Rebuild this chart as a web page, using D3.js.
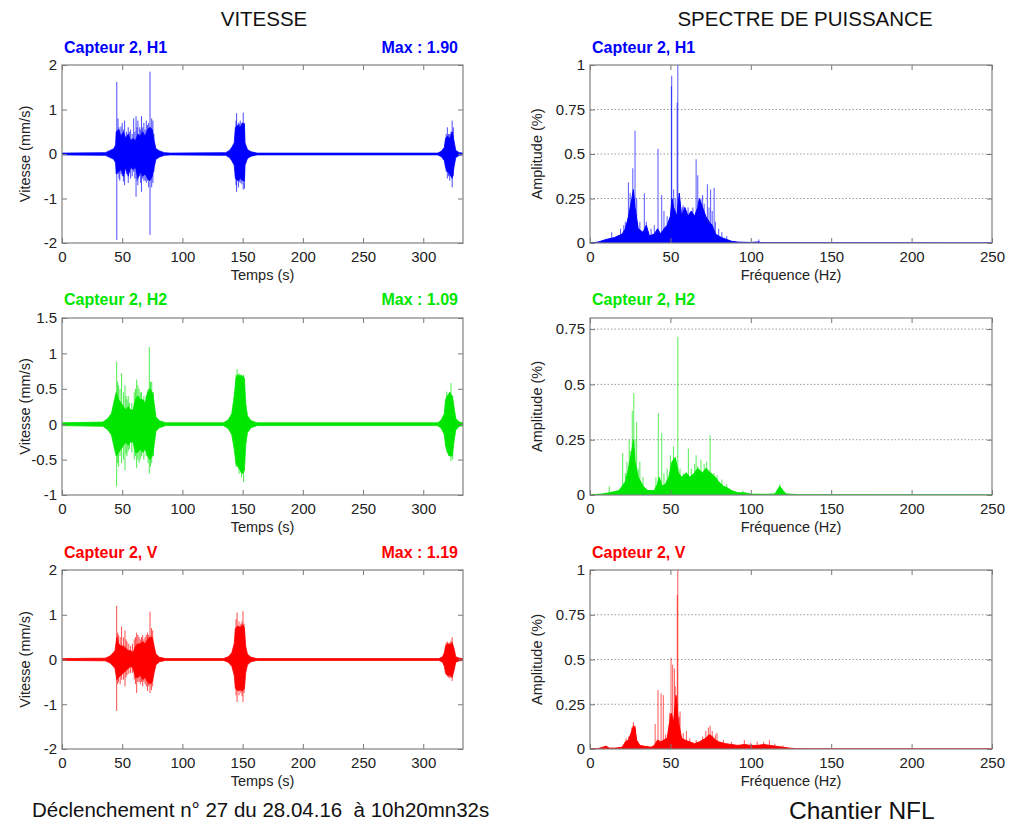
<!DOCTYPE html>
<html><head><meta charset="utf-8">
<script src="https://cdn.jsdelivr.net/npm/d3@7"></script>
<style>
body{margin:0;background:#fff}
svg{display:block}
text{font-family:"Liberation Sans",Arial,Helvetica,sans-serif}
</style>
</head><body>
<svg id="c" width="1011" height="825"></svg>
<script>
// ---------------- DATA ----------------
const timeTicks = [0, 50, 100, 150, 200, 250, 300];
const freqTicks = [0, 50, 100, 150, 200, 250];
const velTicksH1 = [-2, -1, 0, 1, 2];
const velTicksH2 = [-1, -0.5, 0, 0.5, 1, 1.5];
const velTicksV = [-2, -1, 0, 1, 2];
const ampTicks = [0, 0.25, 0.5, 0.75, 1];
const ampTicksH2 = [0, 0.25, 0.5, 0.75];

const channels = ["Capteur 2, H1", "Capteur 2, H2", "Capteur 2, V"];
const maxLabels = ["Max : 1.90", "Max : 1.09", "Max : 1.19"];

// velocity envelope [t, upper, lower] (mm/s)
const h1Env = [
[0,0.02,-0.02],[36,0.03,-0.03],[40,0.08,-0.08],[43,0.12,-0.12],[44.5,0.2,-0.2],[45,0.5,-0.45],[47,0.55,-0.4],[49,0.4,-0.35],[51,0.5,-0.5],[53,0.35,-0.3],[55,0.45,-0.5],[57,0.3,-0.3],[59,0.35,-0.35],[61,0.3,-0.3],[63,0.45,-0.55],[65,0.4,-0.4],[67,0.5,-0.5],[69,0.4,-0.45],[71,0.55,-0.55],[73,0.6,-0.6],[75,0.55,-0.5],[76.5,0.3,-0.3],[78,0.12,-0.12],[81,0.07,-0.07],[85,0.03,-0.03],[90,0.02,-0.02],
[136,0.03,-0.03],[139,0.08,-0.08],[141,0.15,-0.15],[143,0.25,-0.25],[144,0.6,-0.55],[146,0.65,-0.6],[148,0.6,-0.55],[150,0.7,-0.6],[151.5,0.65,-0.6],[152,0.25,-0.25],[154,0.1,-0.1],[157,0.05,-0.05],[162,0.02,-0.02],
[312,0.02,-0.02],[315,0.06,-0.06],[317.5,0.15,-0.15],[318.5,0.35,-0.3],[320,0.4,-0.4],[322,0.35,-0.45],[324,0.5,-0.55],[325.5,0.3,-0.3],[327,0.08,-0.08],[330,0.03,-0.03],[333,0.02,-0.02]
];
const h1Spikes = [
[45.5,1.62,-1.93],[73.1,1.85,-1.82],[46.5,0.8,-0.45],[47.3,0.6,-0.55],[48,0.55,-0.6],[49,0.62,-0.45],[50,0.7,-0.5],[51,0.55,-0.62],[52,0.75,-0.7],[53.5,0.5,-0.45],[55,0.6,-0.65],[56,0.5,-0.4],[57,0.55,-0.55],[58.3,0.45,-0.5],[59.5,0.8,-0.4],[60.5,0.5,-0.55],[61.5,0.85,-0.96],[62.3,0.6,-0.6],[63,0.75,-0.7],[64.5,0.6,-0.5],[65.3,0.55,-0.65],[66,0.85,-0.85],[67,0.6,-0.55],[68,0.7,-0.6],[69,0.55,-0.6],[70,0.75,-0.65],[71,0.65,-0.6],[72,0.7,-0.75],[74.5,0.8,-0.75],[75.5,0.75,-0.65],[76.3,0.45,-0.4],
[144.5,0.75,-0.7],[145,0.92,-0.85],[146.5,0.7,-0.75],[147.3,0.68,-0.62],[148,0.75,-0.65],[149.3,0.7,-0.68],[150.5,0.93,-0.8],[151.5,0.7,-0.78],
[319,0.45,-0.4],[320,0.6,-0.55],[321,0.45,-0.5],[322,0.45,-0.6],[323,0.5,-0.5],[324,0.75,-0.75],[325,0.6,-0.5]
];

const h2Env = [
[0,0.02,-0.02],[34,0.03,-0.03],[38,0.08,-0.08],[41,0.15,-0.15],[43,0.3,-0.3],[45,0.45,-0.45],[47,0.35,-0.4],[49,0.3,-0.35],[51,0.25,-0.3],[53,0.2,-0.25],[55,0.25,-0.3],[57,0.2,-0.25],[59,0.2,-0.25],[61,0.35,-0.4],[63,0.4,-0.4],[65,0.35,-0.35],[67,0.35,-0.4],[69,0.3,-0.35],[71,0.45,-0.45],[73,0.5,-0.5],[75,0.45,-0.45],[76.5,0.3,-0.3],[78,0.1,-0.1],[81,0.05,-0.05],[86,0.02,-0.02],
[134,0.02,-0.02],[138,0.06,-0.06],[141,0.15,-0.15],[143,0.4,-0.35],[144.5,0.65,-0.55],[146,0.7,-0.6],[148,0.68,-0.65],[150,0.68,-0.7],[151.5,0.65,-0.65],[152.5,0.3,-0.3],[154,0.12,-0.12],[157,0.05,-0.05],[162,0.02,-0.02],
[312,0.02,-0.02],[315,0.06,-0.06],[317.5,0.15,-0.15],[318.5,0.35,-0.3],[320,0.4,-0.4],[322,0.45,-0.45],[324,0.4,-0.45],[325.5,0.25,-0.25],[327,0.08,-0.08],[330,0.03,-0.03],[333,0.02,-0.02]
];
const h2Spikes = [
[45.4,0.88,-0.88],[46.2,0.6,-0.55],[47,0.55,-0.6],[48.2,0.5,-0.45],[49.5,0.72,-0.55],[51,0.45,-0.5],[52.3,0.55,-0.65],[53.2,0.4,-0.42],[54,0.35,-0.45],[55,0.4,-0.38],[56,0.3,-0.35],[58,0.3,-0.4],[60,0.45,-0.5],[61,0.5,-0.45],[62,0.63,-0.62],[63,0.55,-0.5],[64,0.5,-0.55],[65,0.45,-0.5],[66,0.45,-0.45],[68,0.4,-0.5],[70,0.4,-0.45],[71.5,0.5,-0.55],[72.5,1.09,-0.7],[73.5,0.6,-0.6],[74.5,0.6,-0.55],[76,0.45,-0.45],
[144.5,0.7,-0.6],[145.4,0.78,-0.6],[147,0.72,-0.7],[148.2,0.7,-0.68],[149,0.7,-0.75],[150.8,0.7,-0.82],
[319.5,0.46,-0.35],[321,0.4,-0.45],[322,0.45,-0.42],[323,0.58,-0.52],[324.5,0.4,-0.5]
];

const vEnv = [
[0,0.02,-0.02],[36,0.03,-0.03],[40,0.08,-0.08],[42.5,0.15,-0.15],[44,0.2,-0.2],[45.5,0.5,-0.45],[47,0.35,-0.4],[49,0.3,-0.35],[51,0.3,-0.3],[53,0.25,-0.25],[55,0.2,-0.2],[57,0.2,-0.15],[59,0.15,-0.2],[61,0.3,-0.4],[63,0.35,-0.4],[65,0.35,-0.35],[67,0.4,-0.45],[69,0.35,-0.4],[71,0.45,-0.5],[73,0.5,-0.55],[75,0.5,-0.5],[76.5,0.3,-0.3],[78,0.12,-0.12],[81,0.05,-0.05],[86,0.02,-0.02],
[134,0.02,-0.02],[138,0.06,-0.06],[141,0.15,-0.15],[143,0.35,-0.35],[144,0.7,-0.65],[146,0.75,-0.7],[148,0.72,-0.68],[150,0.78,-0.7],[151.5,0.7,-0.65],[152.5,0.3,-0.3],[154,0.12,-0.12],[157,0.05,-0.05],[162,0.02,-0.02],
[313,0.02,-0.02],[316,0.06,-0.06],[317.5,0.15,-0.15],[318.5,0.3,-0.3],[320,0.35,-0.35],[322,0.33,-0.35],[324,0.38,-0.4],[325.5,0.25,-0.25],[327,0.06,-0.06],[330,0.03,-0.03],[333,0.02,-0.02]
];
const vSpikes = [
[45.4,1.2,-1.15],[46.2,0.6,-0.55],[47,0.55,-0.5],[48.3,0.5,-0.55],[49.5,0.74,-0.45],[51,0.5,-0.45],[52.3,0.65,-0.6],[53.2,0.45,-0.4],[54,0.4,-0.35],[55.5,0.35,-0.32],[57,0.3,-0.3],[58.5,0.35,-0.3],[60,0.45,-0.45],[61,0.5,-0.55],[62,0.6,-0.75],[63,0.55,-0.5],[64,0.5,-0.5],[65,0.45,-0.55],[66,0.5,-0.5],[67,0.55,-0.6],[68,0.45,-0.5],[69,0.5,-0.55],[70,0.55,-0.6],[71,0.6,-0.7],[72,0.55,-0.6],[73.1,1.07,-0.75],[74.3,0.7,-0.68],[75.3,0.65,-0.6],
[144.5,0.9,-0.8],[145.4,1.05,-0.95],[147,0.85,-0.8],[148.5,0.8,-0.75],[149.5,0.85,-0.82],[150.3,1.08,-0.95],[151.2,0.8,-0.75],
[319,0.38,-0.35],[320,0.4,-0.38],[321,0.36,-0.4],[322,0.38,-0.42],[323,0.42,-0.4],[324,0.5,-0.48]
];

// power spectrum body [f, amplitude] and thin peaks [f, amplitude]
const h1Spec = [
[0,0],[5,0.005],[10,0.02],[15,0.03],[20,0.05],[22,0.08],[24,0.15],[26,0.25],[27,0.3],[28,0.2],[30,0.08],[33,0.06],[35,0.1],[37,0.04],[40,0.05],[42,0.08],[44,0.05],[46,0.08],[48,0.1],[50,0.15],[51,0.25],[52,0.2],[54,0.15],[55.5,0.28],[57,0.15],[59,0.2],[61,0.15],[63,0.18],[65,0.15],[67,0.2],[68,0.25],[70,0.2],[72,0.15],[74,0.12],[76,0.1],[78,0.05],[80,0.04],[82,0.03],[85,0.02],[88,0.01],[92,0.005],[100,0.003],[105,0.006],[106,0.003],[110,0.001],[250,0]
];
const h1Peaks = [
[13.5,0.06],[19,0.08],[21,0.1],[22,0.12],[23.9,0.34],[25,0.28],[26.6,0.42],[28,0.63],[29,0.25],[31,0.12],[33.8,0.28],[35,0.12],[38,0.08],[40,0.1],[42.3,0.53],[44.6,0.27],[46,0.18],[48,0.15],[50.8,0.94],[50.6,0.88],[52,0.3],[53,0.25],[54.6,1.0],[54.2,0.79],[56,0.22],[57.5,0.2],[58,0.21],[60,0.18],[61,0.2],[62,0.17],[64,0.2],[66,0.47],[67,0.38],[69,0.25],[70,0.27],[71,0.22],[73,0.33],[74,0.2],[75,0.3],[76,0.18],[77.2,0.31],[78,0.12],[80,0.08],[82,0.06],[85,0.04],[105,0.02]
];
const h2Spec = [
[0,0],[8,0.005],[12,0.01],[15,0.015],[18,0.02],[20,0.04],[22,0.06],[24,0.12],[26,0.2],[27,0.25],[28,0.15],[30,0.08],[33,0.04],[36,0.02],[40,0.02],[42,0.05],[43,0.08],[45,0.04],[47,0.05],[49,0.08],[51,0.15],[53,0.17],[55,0.1],[57,0.08],[60,0.1],[62,0.08],[65,0.1],[67,0.12],[70,0.1],[72,0.12],[75,0.1],[78,0.08],[80,0.06],[83,0.04],[86,0.03],[88,0.02],[92,0.01],[96,0.01],[100,0.004],[110,0.003],[115,0.005],[118,0.04],[120,0.02],[122,0.005],[130,0.001],[250,0]
];
const h2Peaks = [
[12,0.04],[20.3,0.19],[22,0.1],[23,0.15],[24.4,0.25],[25,0.2],[26.3,0.38],[27.2,0.46],[28,0.25],[29,0.33],[30,0.12],[31,0.15],[33,0.08],[41,0.08],[42.5,0.37],[44.6,0.28],[46,0.1],[48,0.12],[50,0.18],[51.9,0.22],[53,0.16],[54.6,0.715],[56,0.12],[58,0.1],[61.2,0.21],[63,0.12],[65,0.14],[66,0.18],[67,0.13],[69,0.16],[71,0.14],[72.5,0.15],[73,0.12],[74.7,0.27],[77,0.1],[79,0.09],[82,0.07],[85,0.05],[95,0.02],[118,0.05]
];
const vSpec = [
[0,0],[5,0.002],[8,0.01],[10,0.015],[12,0.005],[16,0.005],[20,0.01],[22,0.04],[24,0.05],[26,0.1],[27,0.13],[28,0.12],[29,0.05],[31,0.02],[34,0.015],[38,0.01],[40,0.02],[42,0.05],[44,0.04],[46,0.05],[48,0.06],[49.5,0.15],[50.5,0.2],[52,0.15],[53.5,0.3],[55,0.15],[57,0.06],[59,0.05],[62,0.04],[65,0.03],[68,0.04],[72,0.06],[74,0.08],[76,0.07],[78,0.05],[80,0.04],[84,0.03],[88,0.025],[92,0.02],[96,0.025],[100,0.02],[104,0.02],[108,0.025],[112,0.02],[116,0.015],[120,0.01],[124,0.005],[128,0.002],[135,0],[250,0]
];
const vPeaks = [
[10,0.02],[22.4,0.06],[24,0.07],[25,0.08],[26,0.12],[27,0.15],[28,0.13],[40.5,0.14],[42.3,0.33],[44.2,0.31],[45.6,0.3],[47,0.08],[49.5,0.2],[50.4,0.51],[51.4,0.47],[52.5,0.45],[53,0.35],[54.6,1.0],[54.3,0.86],[55.5,0.18],[56,0.21],[58,0.09],[60,0.1],[62,0.06],[66,0.05],[70,0.07],[72,0.1],[73.6,0.12],[74.7,0.13],[76,0.1],[78,0.08],[79,0.09],[83,0.05],[88,0.04],[96,0.05],[100,0.035],[104,0.04],[108,0.04],[111.6,0.05],[115,0.03],[120,0.02]
];

// ---------------- LAYOUT / STYLE ----------------
const colors = ["#0000ff", "#00e600", "#ff0000"];
const rows = [{y0:65,y1:243},{y0:318,y1:495},{y0:570,y1:749}];
const leftX = {x0:62, x1:463};
const rightX = {x0:590, x1:992};
const FONT_TICK = 15, FONT_LAB = 14.5;

const svg = d3.select("#c");
svg.append("rect").attr("width",1011).attr("height",825).attr("fill","#fff");

let clipId = 0;
function panel(o){
  const x = d3.scaleLinear().domain(o.xDomain).range([o.x0, o.x1]);
  const y = d3.scaleLinear().domain(o.yDomain).range([o.y1, o.y0]);
  const g = svg.append("g");
  const id = "clip" + (clipId++);
  g.append("clipPath").attr("id", id).append("rect")
    .attr("x", o.x0).attr("y", o.y0).attr("width", o.x1 - o.x0).attr("height", o.y1 - o.y0);
  if (o.grid) {
    g.append("g").selectAll("line").data(o.yTicks.filter(v => v > o.yDomain[0] && v < o.yDomain[1])).join("line")
      .attr("x1", o.x0).attr("x2", o.x1).attr("y1", d => y(d)).attr("y2", d => y(d))
      .attr("stroke", "#9a9a9a").attr("stroke-width", 1).attr("stroke-dasharray", "1.5,2");
  }
  const data = g.append("g").attr("clip-path", `url(#${id})`);
  if (o.kind === "time") {
    const area = d3.area().x(d => x(d[0])).y0(d => y(d[2])).y1(d => y(d[1]));
    data.append("path").datum(o.env).attr("d", area).attr("fill", o.color)
      .attr("stroke", o.color).attr("stroke-width", 0.8);
    data.append("g").selectAll("line").data(o.spikes).join("line")
      .attr("x1", d => x(d[0])).attr("x2", d => x(d[0]))
      .attr("y1", d => y(d[1])).attr("y2", d => y(d[2]))
      .attr("stroke", o.color).attr("stroke-width", 1).attr("stroke-opacity", 0.7);
  } else {
    data.append("g").selectAll("line").data(o.spikes).join("line")
      .attr("x1", d => x(d[0])).attr("x2", d => x(d[0]))
      .attr("y1", d => y(d[1])).attr("y2", y(0))
      .attr("stroke", o.color).attr("stroke-width", 1.1).attr("stroke-opacity", 0.6);
    const area = d3.area().x(d => x(d[0])).y0(y(0)).y1(d => y(d[1]));
    data.append("path").datum(o.env).attr("d", area).attr("fill", o.color)
      .attr("stroke", o.color).attr("stroke-width", 1);
  }
  const styleAxis = sel => {
    sel.select(".domain").remove();
    sel.selectAll(".tick line").attr("stroke", "#777");
    sel.selectAll(".tick text").attr("fill", "#222").style("font-size", FONT_TICK + "px")
      .style("font-family", '"Liberation Sans",Arial,sans-serif');
  };
  const fmt = d => String(d);
  g.append("g").attr("transform", `translate(0,${o.y1})`)
    .call(d3.axisBottom(x).tickValues(o.xTicks).tickSize(-5).tickPadding(8).tickFormat(fmt)).call(styleAxis);
  g.append("g").attr("transform", `translate(0,${o.y0})`)
    .call(d3.axisTop(x).tickValues(o.xTicks).tickSize(-5).tickFormat("")).call(styleAxis);
  g.append("g").attr("transform", `translate(${o.x0},0)`)
    .call(d3.axisLeft(y).tickValues(o.yTicks).tickSize(-5).tickPadding(5).tickFormat(fmt)).call(styleAxis);
  g.append("g").attr("transform", `translate(${o.x1},0)`)
    .call(d3.axisRight(y).tickValues(o.yTicks).tickSize(-5).tickFormat("")).call(styleAxis);
  g.append("rect").attr("x", o.x0).attr("y", o.y0).attr("width", o.x1 - o.x0).attr("height", o.y1 - o.y0)
    .attr("fill", "none").attr("stroke", "#808080").attr("stroke-width", 1.2);
  g.append("text").attr("x", (o.x0 + o.x1) / 2).attr("y", o.y1 + 37).attr("text-anchor", "middle")
    .attr("fill", "#222").style("font-size", FONT_LAB + "px").text(o.xLabel);
  g.append("text").attr("transform", `translate(${o.yLabX},${(o.y0 + o.y1) / 2}) rotate(-90)`)
    .attr("text-anchor", "middle").attr("fill", "#222").style("font-size", FONT_LAB + "px").text(o.yLabel);
  g.append("text").attr("x", o.x0 + 2).attr("y", o.subY).attr("fill", o.color)
    .style("font-size", "16px").style("font-weight", "bold").text(o.title);
  if (o.maxText) {
    g.append("text").attr("x", o.x1 - 5).attr("y", o.subY).attr("text-anchor", "end").attr("fill", o.color)
      .style("font-size", "16px").style("font-weight", "bold").text(o.maxText);
  }
}

const velEnvs = [h1Env, h2Env, vEnv];
const velSpikes = [h1Spikes, h2Spikes, vSpikes];
const velDomains = [[-2, 2], [-1, 1.5], [-2, 2]];
const velTicks = [velTicksH1, velTicksH2, velTicksV];
const specs = [h1Spec, h2Spec, vSpec];
const peaks = [h1Peaks, h2Peaks, vPeaks];
const ampDomains = [[0, 1], [0, 0.8], [0, 1]];
const ampTickSets = [ampTicks, ampTicksH2, ampTicks];
const subYs = [53, 305, 558];

rows.forEach((r, i) => {
  panel({kind: "time", x0: leftX.x0, x1: leftX.x1, y0: r.y0, y1: r.y1,
    xDomain: [0, 333], yDomain: velDomains[i], xTicks: timeTicks, yTicks: velTicks[i],
    env: velEnvs[i], spikes: velSpikes[i], color: colors[i], grid: false,
    xLabel: "Temps (s)", yLabel: "Vitesse (mm/s)", yLabX: 30,
    title: channels[i], maxText: maxLabels[i], subY: subYs[i]});
  panel({kind: "spec", x0: rightX.x0, x1: rightX.x1, y0: r.y0, y1: r.y1,
    xDomain: [0, 250], yDomain: ampDomains[i], xTicks: freqTicks, yTicks: ampTickSets[i],
    env: specs[i], spikes: peaks[i], color: colors[i], grid: true,
    xLabel: "Fréquence (Hz)", yLabel: "Amplitude (%)", yLabX: 542,
    title: channels[i], maxText: null, subY: subYs[i]});
});

svg.append("text").attr("x", 264).attr("y", 26).attr("text-anchor", "middle").attr("fill", "#111")
  .style("font-size", "20.5px").text("VITESSE");
svg.append("text").attr("x", 805).attr("y", 26).attr("text-anchor", "middle").attr("fill", "#111")
  .style("font-size", "20.5px").text("SPECTRE DE PUISSANCE");
svg.append("text").attr("x", 32).attr("y", 817).attr("fill", "#111")
  .style("font-size", "20.5px").style("white-space", "pre")
  .text("Déclenchement n° 27 du 28.04.16  à 10h20mn32s");
svg.append("text").attr("x", 789).attr("y", 819).attr("fill", "#111")
  .style("font-size", "24.5px").text("Chantier NFL");
</script>
</body></html>
